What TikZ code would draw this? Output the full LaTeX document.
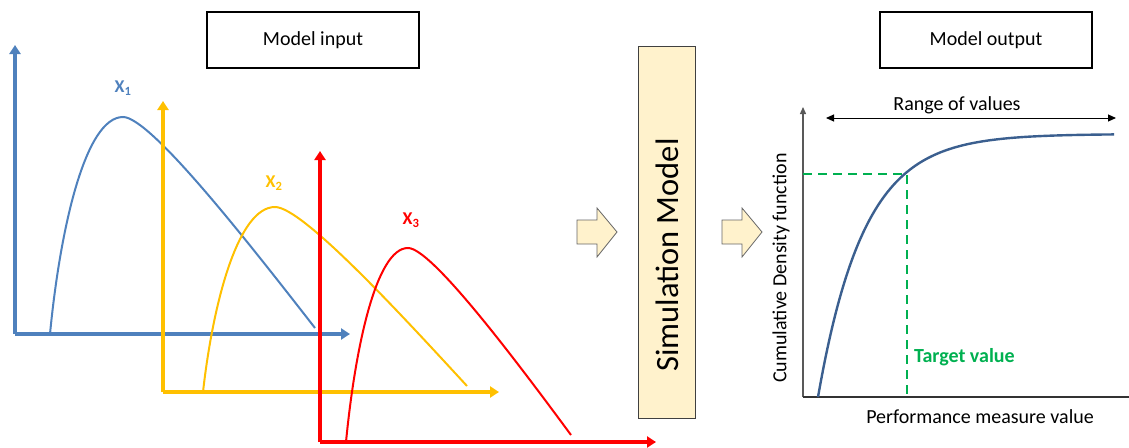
\documentclass[tikz,border=0pt]{standalone}
\usepackage{fontspec}
\setmainfont{Carlito}
\usetikzlibrary{arrows.meta}
\definecolor{axblue}{HTML}{4F81BD}
\definecolor{axyellow}{HTML}{FFC000}
\definecolor{axred}{HTML}{FF0000}
\definecolor{cdfblue}{HTML}{3B5F8F}
\definecolor{tgreen}{HTML}{00B050}
\definecolor{blockfill}{HTML}{FFF2CC}
\begin{document}
\begin{tikzpicture}[x=1pt,y=-1pt,
  axis/.style={line width=3.2pt,-{Triangle[width=11pt,length=9pt]}},
  dist/.style={line width=2pt},
  lbl/.style={font=\fontsize{18}{20}\selectfont\bfseries},
  titlebox/.style={draw=black,line width=2.4pt,minimum width=212pt,minimum height=56pt,font=\fontsize{20}{24}\selectfont,inner sep=0pt},
  blockarrow/.style={draw=gray!80!black,fill=blockfill,line width=0.8pt},
  thinaxis/.style={draw=gray!70!black,line width=1.3pt,-{Triangle[width=6pt,length=7pt]}},
  txt/.style={font=\fontsize{20}{24}\selectfont,inner sep=0pt}
]
\useasboundingbox (0,0) rectangle (1129,447);
% Title boxes
\node[titlebox] (min) at (313,40) {Model input};
\node[titlebox] (mout) at (986,40) {Model output};
% ---- Blue distribution X1
\coordinate (bo) at (15,334);
\coordinate (by) at (15,45);
\coordinate (bx) at (350,334);
\draw[axis,axblue] (bo) -- (by);
\draw[axis,axblue] (bo) -- (bx);
\draw[dist,axblue] (50,334) .. controls (60,230) and (85,117) .. (123,117)
  .. controls (150,117) and (245,238) .. (315,328);
\node[lbl,text=axblue] (x1) at (123,88) {X\textsubscript{1}};
% ---- Yellow distribution X2
\coordinate (yo) at (163,392);
\coordinate (yy) at (163,101);
\coordinate (yx) at (499,392);
\draw[axis,axyellow] (yo) -- (yy);
\draw[axis,axyellow] (yo) -- (yx);
\draw[dist,axyellow] (203,392) .. controls (213,303) and (238,207) .. (275,207)
  .. controls (302,207) and (397,310) .. (467,386);
\node[lbl,text=axyellow] (x2) at (274,183) {X\textsubscript{2}};
% ---- Red distribution X3
\coordinate (ro) at (320,442);
\coordinate (ry) at (320,151);
\coordinate (rx) at (656,442);
\draw[axis,axred] (ro) -- (ry);
\draw[axis,axred] (ro) -- (rx);
\draw[dist,axred] (346,442) .. controls (355,349) and (376,248) .. (408,248)
  .. controls (431,248) and (512,355) .. (571,435);
\node[lbl,text=axred] (x3) at (411,220) {X\textsubscript{3}};
% ---- Block arrows and simulation model
\draw[blockarrow] (577,220) -- (597,220) -- (597,208) -- (617,232) -- (597,257) -- (597,244) -- (577,244) -- cycle;
\node[draw=black!75,fill=blockfill,line width=0.9pt,minimum width=57pt,minimum height=372pt,inner sep=0pt] (sim) at (666.5,232) {};
\node[rotate=90,font=\fontsize{32.5}{36}\selectfont,inner sep=0pt] (simt) at (667,255) {Simulation Model};
\draw[blockarrow] (722,220) -- (742,220) -- (742,208) -- (762,232) -- (742,257) -- (742,244) -- (722,244) -- cycle;
% ---- Output chart
\coordinate (co) at (803,397);
\coordinate (cy) at (803,107);
\coordinate (cx) at (1129,397);
\draw[thinaxis] (co) -- (cy);
\draw[draw=black!80,line width=1.3pt] (co) -- (cx);
\coordinate (ra) at (826,118);
\coordinate (rb) at (1116,118);
\draw[line width=1pt,{Triangle[width=7pt,length=8pt]}-{Triangle[width=7pt,length=8pt]}] (ra) -- (rb);
\node[txt] (range) at (957,105) {Range of values};
\draw[cdfblue,line width=2.4pt] plot[domain=818:1114,samples=120,variable=\t] (\t,{397-263*(1-exp(-(\t-818)/46))});
\coordinate (tp) at (907,174);
\coordinate (tl) at (803,174);
\coordinate (tb) at (907,397);
\draw[tgreen,line width=2.4pt,dash pattern=on 9pt off 6pt] (tl) -- (tp) -- (tb);
\node[txt,font=\fontsize{20}{24}\selectfont\bfseries,text=tgreen,anchor=west] (tv) at (914,357) {Target value};
\node[txt] (pmv) at (980,417) {Performance measure value};
\node[txt,rotate=90] (cdf) at (781,268) {Cumulative Density function};
\end{tikzpicture}
\end{document}
